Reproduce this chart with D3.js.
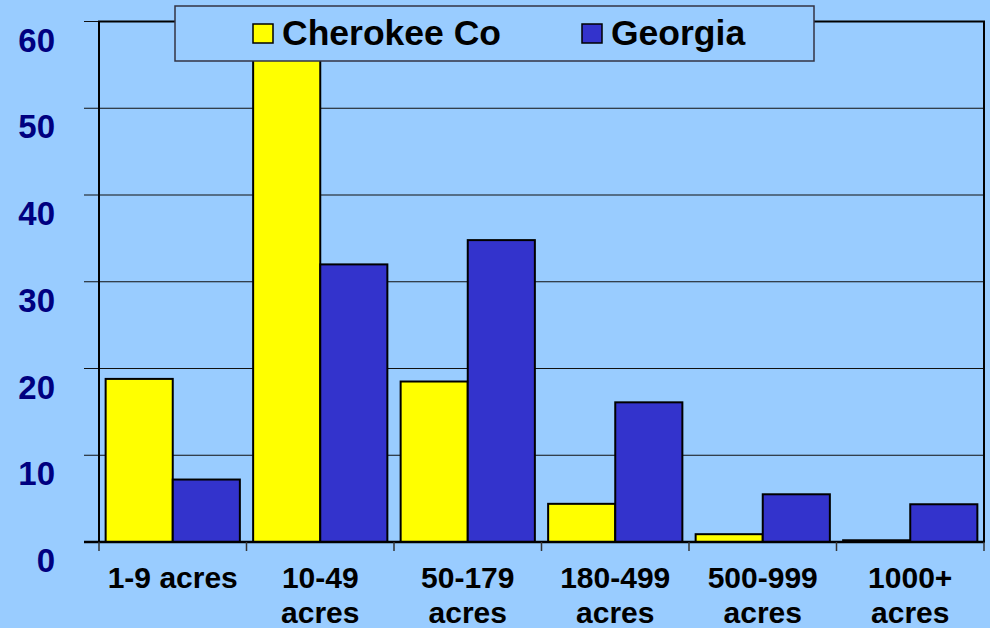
<!DOCTYPE html>
<html>
<head>
<meta charset="utf-8">
<script src="https://cdn.jsdelivr.net/npm/d3@7"></script>
<style>
  body { margin: 0; background: #99ccff; }
  svg { display: block; font-family: Arial, "Liberation Sans", sans-serif; }
</style>
</head>
<body>
<div id="chart"></div>
<script>
// farm size categories (two-line labels)
var categories = ["1-9 acres", "10-49 acres", "50-179 acres", "180-499 acres", "500-999 acres", "1000+ acres"];
var catLines = [["1-9 acres"], ["10-49", "acres"], ["50-179", "acres"], ["180-499", "acres"], ["500-999", "acres"], ["1000+", "acres"]];
var seriesNames = ["Cherokee Co", "Georgia"];
var cherokee = [18.8, 60, 18.5, 4.4, 0.9, 0.2];
var georgia = [7.2, 32.0, 34.8, 16.1, 5.5, 4.35];
var yTicks = [0, 10, 20, 30, 40, 50, 60];

var W = 990, H = 628;
var margin = { top: 21.5, right: 6, bottom: 86, left: 99 },
  width = W - margin.left - margin.right,
  height = H - margin.top - margin.bottom;

var color = d3.scaleOrdinal().domain(seriesNames).range(["#ffff00", "#3333cc"]);

var x0 = d3.scaleBand().domain(categories).range([0, width]).paddingInner(0.09).paddingOuter(0.045);
var x1 = d3.scaleBand().domain(seriesNames).range([0, x0.bandwidth()]);
var y = d3.scaleLinear().domain([0, 60]).range([height, 0]);

var data = categories.map(function (c, i) {
  return { cat: c, values: [{ key: "Cherokee Co", v: cherokee[i] }, { key: "Georgia", v: georgia[i] }] };
});

var svg = d3.select("#chart").append("svg")
  .attr("width", W)
  .attr("height", H);

var g = svg.append("g")
  .attr("transform", "translate(" + margin.left + "," + margin.top + ")");

g.append("clipPath").attr("id", "clip")
  .append("rect").attr("width", width).attr("height", height);

// gridlines + left ticks
g.append("g")
  .selectAll("line")
  .data(yTicks.slice(1))
  .enter().append("line")
  .attr("x1", -15)
  .attr("x2", width)
  .attr("y1", function (d) { return y(d); })
  .attr("y2", function (d) { return y(d); })
  .attr("stroke", "#111")
  .attr("stroke-width", 1.2);

// plot frame
g.append("rect")
  .attr("width", width)
  .attr("height", height)
  .attr("fill", "none")
  .attr("stroke", "#000")
  .attr("stroke-width", 2);

// y labels (sit below their gridline, as in the original)
g.append("g")
  .selectAll("text")
  .data(yTicks)
  .enter().append("text")
  .attr("x", -44)
  .attr("y", function (d) { return y(d) + 30; })
  .attr("text-anchor", "end")
  .attr("fill", "#000080")
  .attr("font-size", 33)
  .attr("font-weight", "bold")
  .text(function (d) { return d; });

// bars
var groups = g.append("g")
  .attr("clip-path", "url(#clip)")
  .selectAll(".grp")
  .data(data)
  .enter().append("g")
  .attr("class", "grp")
  .attr("transform", function (d) { return "translate(" + x0(d.cat) + ",0)"; });

groups.selectAll("rect")
  .data(function (d) { return d.values; })
  .enter().append("rect")
  .attr("x", function (d) { return x1(d.key); })
  .attr("width", x1.bandwidth())
  .attr("y", function (d) { return y(d.v); })
  .attr("height", function (d) { return height - y(d.v); })
  .attr("fill", function (d) { return color(d.key); })
  .attr("stroke", "#000")
  .attr("stroke-width", 2);

// x axis line and category tick marks
g.append("line")
  .attr("x1", -15).attr("x2", width)
  .attr("y1", height).attr("y2", height)
  .attr("stroke", "#000").attr("stroke-width", 2.5);

var step = width / categories.length;
g.append("g")
  .selectAll("line")
  .data(d3.range(categories.length + 1))
  .enter().append("line")
  .attr("x1", function (i) { return i * step; })
  .attr("x2", function (i) { return i * step; })
  .attr("y1", height)
  .attr("y2", height + 9)
  .attr("stroke", "#333")
  .attr("stroke-width", 1.5);

// category labels
var lab = g.append("g")
  .selectAll("text")
  .data(catLines)
  .enter().append("text")
  .attr("x", function (d, i) { return x0(categories[i]) + x0.bandwidth() / 2; })
  .attr("y", height + 46)
  .attr("text-anchor", "middle")
  .attr("font-size", 30)
  .attr("font-weight", "bold")
  .attr("fill", "#000");

lab.selectAll("tspan")
  .data(function (d) { return d; })
  .enter().append("tspan")
  .attr("x", function () { return d3.select(this.parentNode).attr("x"); })
  .attr("dy", function (d, i) { return i === 0 ? 0 : 35; })
  .text(function (d) { return d; });

// legend
var legend = svg.append("g").attr("transform", "translate(175,6)");
legend.append("rect")
  .attr("width", 639)
  .attr("height", 55)
  .attr("fill", "#99ccff")
  .attr("stroke", "#333344")
  .attr("stroke-width", 1.5);

var legX = [78, 407];
var item = legend.selectAll(".legend")
  .data(seriesNames)
  .enter().append("g")
  .attr("class", "legend")
  .attr("transform", function (d, i) { return "translate(" + legX[i] + ",18)"; });

item.append("rect")
  .attr("width", 20)
  .attr("height", 19)
  .attr("fill", color)
  .attr("stroke", "#000")
  .attr("stroke-width", 1.5);

item.append("text")
  .attr("x", 29)
  .attr("y", 21)
  .attr("font-size", 35.5)
  .attr("font-weight", "bold")
  .attr("fill", "#000")
  .text(function (d) { return d; });
</script>
</body>
</html>
